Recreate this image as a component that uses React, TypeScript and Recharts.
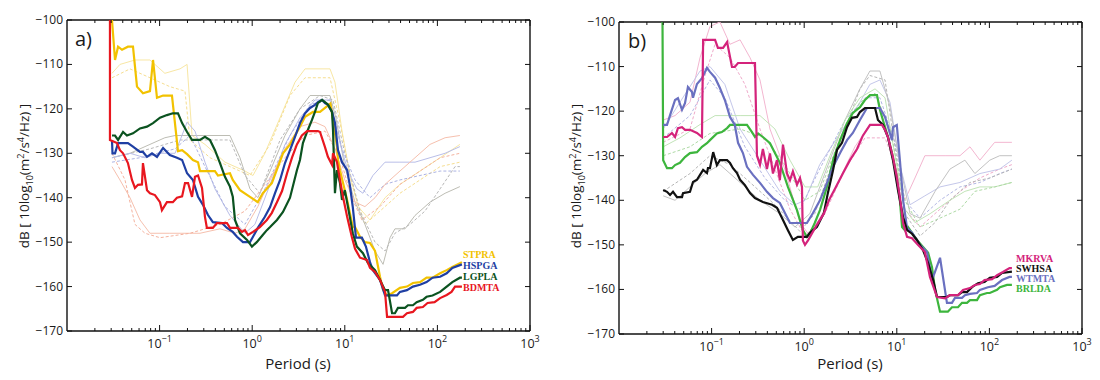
import { LineChart, Line, XAxis, YAxis, ReferenceLine } from 'recharts'

type Pt = [number, number]

// period (s), dB
const STPRA: Pt[] = [
  [0.0306, -100], [0.033, -109], [0.0356, -106], [0.0393, -106.7], [0.0455, -106], [0.0516, -106],
  [0.057, -115], [0.0661, -116.5], [0.0787, -116], [0.0849, -109], [0.0937, -117.5], [0.109, -117],
  [0.136, -117], [0.158, -129.5], [0.175, -129.3], [0.198, -130.2], [0.229, -131.5], [0.26, -132],
  [0.273, -134], [0.396, -134], [0.427, -135], [0.575, -134.5], [0.617, -136], [0.738, -138.3],
  [0.946, -139.8], [1.15, -141], [1.3, -139], [1.63, -136.7], [1.9, -133], [2.15, -130], [2.56, -128],
  [3.28, -124], [3.72, -121.8], [4.53, -120.7], [5.4, -120.7], [6.11, -119.8], [7.0, -118.8],
  [7.46, -122.5], [8.23, -128.5], [8.44, -131.5], [8.87, -133.8], [10.6, -140.5], [12.2, -146.6],
  [12.9, -146.6], [14.6, -148.8], [16.5, -150], [18.7, -150.2], [21.2, -152], [24.0, -157.8],
  [25.9, -160.8], [28.6, -162], [32.4, -161.5], [39.4, -160.3], [46.9, -160], [54.4, -159.2],
  [64.9, -159], [76.4, -158], [88.6, -158], [107, -157], [126, -156.3], [145, -155.6], [184, -154.5],
]

const HSPGA: Pt[] = [
  [0.0306, -127], [0.031, -130], [0.033, -130], [0.0356, -127.7], [0.0455, -127.7], [0.0516, -128.5],
  [0.0614, -129.7], [0.0661, -129.7], [0.0731, -130.8], [0.0828, -130], [0.0937, -130.8], [0.109, -128.8],
  [0.129, -130.4], [0.154, -131], [0.175, -131.5], [0.198, -134.5], [0.229, -136], [0.26, -139.8],
  [0.294, -141.6], [0.333, -143.9], [0.376, -145.5], [0.471, -145.7], [0.534, -146.8], [0.617, -147.7],
  [0.685, -148.8], [0.795, -150], [0.946, -150], [1.02, -148.8], [1.15, -146.8], [1.37, -144.3],
  [1.56, -142.1], [1.76, -139], [2.0, -136], [2.26, -132.2], [2.56, -129.3], [2.9, -126.3], [3.28, -123.2],
  [3.72, -121], [4.21, -119.8], [4.76, -119.1], [5.12, -118.5], [5.68, -118], [6.11, -118.7],
  [6.57, -119.1], [7.28, -120.7], [7.83, -123.2], [8.44, -129.3], [9.33, -132], [10.6, -133.8],
  [11.4, -137.5], [12.2, -142.1], [13.2, -149], [15.3, -149], [16.9, -151], [18.7, -154.5],
  [20.1, -156.3], [24.0, -158.5], [27.2, -162], [36.6, -162], [39.4, -161.2], [46.9, -160.8],
  [54.4, -160], [64.9, -159.6], [76.4, -159], [88.6, -158], [107, -157.8], [126, -157], [145, -155.8],
  [184, -155],
]

const LGPLA: Pt[] = [
  [0.0306, -126], [0.033, -126], [0.0356, -127], [0.0403, -125.2], [0.0444, -126], [0.0516, -125.5],
  [0.0614, -124.4], [0.0731, -124], [0.0849, -123.2], [0.101, -122], [0.12, -121.4], [0.139, -121],
  [0.158, -121], [0.175, -123.2], [0.198, -125.2], [0.224, -127], [0.273, -127], [0.309, -126.3],
  [0.35, -127], [0.396, -129.3], [0.449, -132.2], [0.508, -135.3], [0.575, -137.5], [0.617, -139.8],
  [0.652, -145], [0.738, -148], [0.879, -149.5], [0.994, -151], [1.12, -150], [1.3, -148.4],
  [1.44, -147.3], [1.56, -146.6], [1.85, -145], [2.15, -143.2], [2.56, -140], [3.04, -133.8],
  [3.28, -131.5], [3.53, -127.7], [3.91, -125.2], [4.42, -122.5], [4.76, -120.7], [5.12, -118.7],
  [5.68, -118], [6.11, -118.5], [6.57, -119], [7.28, -120.7], [7.46, -124.8], [7.83, -139],
  [8.23, -133.8], [8.87, -136.7], [9.33, -140.5], [10.0, -138.3], [10.8, -142], [12.2, -148],
  [13.5, -151], [15.7, -152.5], [17.8, -154.7], [21.2, -156.3], [24.0, -158.5], [27.2, -160.8],
  [29.3, -160.8], [32.4, -166], [34.8, -166], [37.5, -164.8], [44.7, -164.8], [48.1, -164.2],
  [54.4, -164.2], [59.7, -163.5], [69.7, -163], [76.4, -162.3], [88.6, -162], [107, -161.2],
  [126, -160], [145, -159], [175, -158], [184, -158],
]

const BDMTA: Pt[] = [
  [0.0291, -100], [0.0291, -127], [0.0347, -127.7], [0.0373, -129.3], [0.0403, -130], [0.0455, -132.2],
  [0.0503, -136], [0.0542, -137.8], [0.0584, -137.1], [0.0645, -137], [0.0661, -132.2], [0.0731, -138.3],
  [0.0787, -139], [0.0891, -139.4], [0.101, -141], [0.106, -142.8], [0.12, -141], [0.139, -141],
  [0.154, -140], [0.175, -139.7], [0.188, -136.7], [0.203, -136.7], [0.224, -139.8], [0.241, -135.3],
  [0.26, -135], [0.287, -137.8], [0.309, -144.3], [0.324, -146.8], [0.376, -146.8], [0.416, -145.7],
  [0.534, -145.7], [0.575, -146.8], [0.702, -146.8], [0.776, -147.7], [0.836, -147.3], [0.901, -148.4],
  [1.02, -147.7], [1.21, -146.6], [1.44, -145], [1.63, -143.4], [1.85, -141], [2.1, -138.5],
  [2.38, -134.5], [2.69, -131], [3.04, -128], [3.44, -126], [3.91, -125], [5.12, -125], [5.4, -125.2],
  [6.11, -128.6], [6.57, -130.8], [7.28, -132.6], [7.46, -130], [8.23, -132], [8.87, -136],
  [9.56, -139.8], [10.6, -144.3], [11.9, -148.8], [12.9, -151.5], [14.6, -153.5], [17.3, -154],
  [18.7, -155.8], [21.2, -156.7], [24.0, -158.5], [27.2, -161.2], [28.6, -166.8], [42.5, -166.8],
  [46.9, -166], [54.4, -165.7], [59.7, -164.8], [69.7, -164.6], [78.3, -163.7], [93.2, -163.5],
  [107, -162.6], [126, -161.9], [142, -161.2], [155, -160], [184, -160],
]

const MKRVA: Pt[] = [
  [0.03, -125.8], [0.033, -125.8], [0.0373, -124.9], [0.0403, -125.8], [0.0433, -123.8], [0.0479, -123.6],
  [0.0516, -124.2], [0.0584, -124.2], [0.0695, -124.9], [0.0787, -125.8], [0.081, -104], [0.109, -104],
  [0.117, -105.8], [0.133, -105.8], [0.147, -104.5], [0.166, -110.1], [0.178, -110.1], [0.193, -109.2],
  [0.294, -109.2], [0.309, -130], [0.333, -132], [0.358, -128.5], [0.396, -133], [0.427, -129.5],
  [0.46, -134], [0.508, -131], [0.546, -135.5], [0.59, -127.5], [0.652, -134], [0.702, -135.5],
  [0.755, -133.5], [0.836, -136.5], [0.901, -135], [0.946, -137], [0.968, -149], [1.02, -150],
  [1.1, -149], [1.37, -145.5], [1.63, -143], [1.85, -140], [2.2, -137], [2.63, -133.9], [3.12, -131],
  [3.72, -128.5], [4.3, -125.5], [5.14, -123.1], [6.92, -123.1], [7.46, -124.2], [8.02, -125.8],
  [9.09, -130.3], [10.0, -134.8], [10.8, -139.3], [11.7, -145.1], [12.9, -148.2], [14.6, -148.5],
  [16.9, -150], [20.1, -151.6], [22.8, -157.2], [27.2, -161.7], [33.2, -162], [37.5, -161.3],
  [45.8, -161.3], [51.9, -160.1], [61.7, -159.7], [69.7, -159], [79.0, -158.8], [88.6, -157.9],
  [107, -157.7], [121, -156.8], [140, -156.1], [165, -155.2], [175, -155.2],
]

const SWHSA: Pt[] = [
  [0.03, -137.7], [0.033, -138.1], [0.0356, -138.8], [0.0383, -138.1], [0.0423, -139.3], [0.0479, -139.3],
  [0.0491, -138.4], [0.0584, -138.1], [0.063, -135.9], [0.0695, -135.4], [0.075, -134.3], [0.081, -133.2],
  [0.0891, -133.9], [0.0913, -132.8], [0.096, -132.8], [0.104, -129.2], [0.114, -132.1], [0.123, -131],
  [0.147, -131], [0.158, -131.6], [0.17, -132.8], [0.188, -133.9], [0.203, -135.4], [0.229, -136.6],
  [0.26, -138.4], [0.294, -139.5], [0.358, -140.4], [0.45, -141], [0.508, -141.7], [0.59, -144.4],
  [0.667, -146.7], [0.755, -148.9], [0.855, -148.2], [1.07, -148.2], [1.15, -147.3], [1.37, -146],
  [1.63, -142.9], [1.8, -138.4], [2.05, -133.2], [2.26, -128.7], [2.56, -127.1], [2.9, -123.6],
  [3.28, -121.5], [3.72, -121.3], [4.0, -120.2], [4.53, -119.3], [5.82, -119.3], [6.26, -122],
  [7.09, -123.1], [8.02, -125.8], [9.09, -131], [10.3, -137.7], [11.7, -143.8], [12.9, -146.7],
  [14.6, -147.5], [16.5, -148.9], [19.2, -151.2], [21.8, -154.1], [24.7, -157.9], [27.2, -161.7],
  [34.8, -161.7], [37.5, -161.3], [45.8, -161.3], [50.6, -160.6], [57.3, -160.6], [64.9, -159.5],
  [75.4, -158.6], [88.6, -158.3], [101, -157.4], [121, -157.2], [137, -156.3], [175, -156],
]

const WTMTA: Pt[] = [
  [0.03, -123.1], [0.033, -123.1], [0.0356, -120.9], [0.0403, -117.5], [0.0433, -117.1], [0.0479, -119.7],
  [0.0516, -118.2], [0.0555, -114.6], [0.0614, -115.7], [0.063, -117], [0.0695, -113.9], [0.0787, -112.6],
  [0.0891, -110.3], [0.096, -111.2], [0.109, -112.5], [0.123, -114.8], [0.139, -117.5], [0.158, -121.3],
  [0.178, -123.1], [0.193, -127.1], [0.218, -129.4], [0.241, -132.5], [0.28, -134.3], [0.333, -136.1],
  [0.396, -138.1], [0.46, -139.5], [0.546, -140.6], [0.702, -145.1], [1.07, -145.1], [1.24, -142.9],
  [1.48, -140], [1.76, -136.1], [2.05, -132.5], [2.44, -129.4], [2.9, -126.5], [3.35, -124.9],
  [4.0, -122], [4.76, -119.3], [6.57, -119.3], [7.46, -121.3], [8.87, -126.5], [9.09, -123.6],
  [10.0, -123.1], [10.8, -131], [11.7, -140], [12.9, -146.2], [14.6, -147.3], [17.8, -150],
  [21.2, -151.6], [24.0, -157.9], [29.3, -152.9], [34.8, -163], [39.4, -163], [42.5, -161.9],
  [50.6, -161.9], [54.4, -161.3], [61.7, -161], [73.5, -160.8], [79.0, -160.1], [96.4, -159.5],
  [114, -159.2], [137, -157.9], [165, -157.2], [175, -157.2],
]

const BRLDA: Pt[] = [
  [0.0295, -100], [0.03, -131], [0.033, -132.8], [0.0373, -132.8], [0.0403, -132.1], [0.0455, -131.6],
  [0.0516, -130.3], [0.0584, -129.4], [0.0695, -129.2], [0.0787, -128], [0.0891, -127.2], [0.096, -126.5],
  [0.114, -125], [0.129, -124.7], [0.147, -123.8], [0.158, -123.1], [0.241, -123.1], [0.273, -124.7],
  [0.294, -125.8], [0.318, -125], [0.358, -125.8], [0.427, -127.2], [0.483, -129.4], [0.546, -131.6],
  [0.667, -137], [0.836, -142.2], [0.968, -146.7], [1.07, -148.2], [1.15, -147.5], [1.3, -145.1],
  [1.48, -142.2], [1.76, -137], [2.05, -131], [2.44, -126.5], [2.9, -122.7], [3.35, -120.4],
  [4.0, -119.1], [4.53, -117.5], [5.14, -116.4], [6.11, -116.4], [6.57, -119.7], [7.46, -123.6],
  [8.02, -125.8], [8.87, -129.4], [10.0, -134.8], [10.8, -140], [11.4, -146], [12.2, -146.7],
  [13.2, -146], [14.6, -147.3], [16.5, -148.9], [19.2, -150.5], [21.8, -151.8], [24.0, -155],
  [25.9, -160.1], [29.3, -165], [35.6, -165], [39.4, -164], [45.8, -164], [50.6, -163], [57.3, -163],
  [61.7, -162.4], [73.5, -162.4], [79.0, -161.3], [94.2, -160.8], [101, -160.8], [121, -160.1],
  [130, -159.5], [155, -159], [175, -159],
]

// faint station curves, panel a
const A_YELLOW: Pt[] = [
  [0.0306, -112], [0.0373, -110], [0.0542, -109], [0.0787, -109], [0.114, -112], [0.166, -111],
  [0.198, -110], [0.224, -126], [0.309, -128], [0.508, -132], [0.836, -134], [1.02, -135], [1.37, -130],
  [2.0, -122], [2.9, -114], [3.72, -111], [6.92, -111], [7.83, -114], [9.33, -125], [11.4, -135],
  [13.9, -142], [18.7, -145], [27.2, -140], [39.4, -137], [64.9, -134], [107, -131], [175, -128],
]
const A_GRAY: Pt[] = [
  [0.0306, -131], [0.0479, -130], [0.0787, -128], [0.114, -126.5], [0.147, -126], [0.575, -126],
  [0.738, -131], [0.946, -138], [1.15, -140], [1.56, -134], [2.26, -126], [3.28, -120], [4.21, -117],
  [6.92, -117], [8.0, -122], [10.0, -133], [12.9, -141], [16.5, -146], [21.2, -152], [25.9, -155],
  [30.8, -149], [34.8, -147], [44.7, -147], [57.3, -144], [83.2, -141], [121, -139], [175, -137.5],
]
const A_BLUE: Pt[] = [
  [0.0306, -131], [0.0479, -130], [0.0695, -131], [0.101, -130], [0.147, -130], [0.198, -123],
  [0.241, -125], [0.309, -132], [0.396, -138], [0.575, -144], [0.836, -148], [1.07, -146], [1.56, -137],
  [2.26, -128], [3.28, -122], [4.76, -118], [6.92, -118], [8.44, -126], [10.8, -134], [13.5, -138],
  [15.7, -139], [20.1, -135], [27.2, -132], [39.4, -132], [57.3, -132], [83.2, -131], [121, -130],
  [175, -128.5],
]
const A_SALMON: Pt[] = [
  [0.0306, -133], [0.0373, -136], [0.0479, -140], [0.0614, -145], [0.0787, -148], [0.129, -148],
  [0.273, -148], [0.449, -147], [0.652, -148], [0.836, -147], [1.15, -142], [1.56, -136], [2.26, -129],
  [3.28, -124], [4.76, -123], [6.11, -124], [7.83, -129], [10.0, -136], [12.9, -141], [16.5, -142],
  [21.2, -140], [27.2, -137], [39.4, -134], [57.3, -131], [83.2, -128], [121, -126.5], [175, -126],
]
const A_SALMON_D: Pt[] = [
  [0.0306, -130], [0.0423, -136], [0.0542, -146], [0.0695, -148], [0.101, -149], [0.213, -148],
  [0.449, -146], [0.836, -143], [1.37, -137], [2.26, -131], [3.72, -126], [6.11, -125], [8.87, -131],
  [11.9, -140], [15.3, -145], [24.0, -142], [39.4, -137], [64.9, -134], [107, -131], [175, -130],
]
const A_GRAY_D: Pt[] = [
  [0.0306, -131], [0.0787, -129], [0.166, -127], [0.575, -127], [0.836, -135], [1.21, -139], [2.0, -127],
  [3.28, -120], [5.4, -117], [7.46, -118], [10.0, -130], [14.6, -143], [21.2, -150], [27.2, -152],
  [34.8, -148], [50.6, -146], [73.5, -143], [107, -138], [155, -133], [175, -133],
]
const A_BLUE_D: Pt[] = [
  [0.0306, -132], [0.0614, -131], [0.147, -129], [0.213, -126], [0.309, -133], [0.508, -142],
  [0.836, -146], [1.37, -138], [2.56, -126], [4.21, -119], [6.92, -118], [9.33, -129], [12.9, -136],
  [18.7, -140], [27.2, -137], [39.4, -136], [64.9, -135], [107, -134], [175, -134],
]
const A_YELLOW_D: Pt[] = [
  [0.0306, -113], [0.0479, -111], [0.0787, -113], [0.129, -115], [0.188, -116], [0.213, -127],
  [0.35, -131], [0.575, -133], [0.946, -135], [1.56, -128], [2.56, -117], [3.72, -113], [6.92, -113],
  [8.87, -123], [11.9, -137], [16.5, -146], [24.0, -143], [39.4, -139], [64.9, -136], [107, -133],
  [175, -132],
]

// faint station curves, panel b
const B_PINK: Pt[] = [
  [0.03, -122], [0.0403, -121], [0.0584, -118], [0.075, -108], [0.096, -101], [0.123, -100], [0.158, -105],
  [0.203, -104], [0.26, -108], [0.333, -113], [0.427, -124], [0.617, -133], [0.901, -145], [1.15, -148],
  [1.67, -142], [2.44, -135], [3.53, -128], [5.12, -123], [7.46, -123], [9.56, -132], [12.2, -140],
  [15.7, -135], [20.1, -130], [33.2, -130], [48.1, -130], [61.7, -128], [79.0, -131], [114, -127],
  [175, -127],
]
const B_LAVENDER: Pt[] = [
  [0.03, -124], [0.0455, -118], [0.075, -111], [0.096, -110], [0.139, -114], [0.203, -124], [0.333, -131],
  [0.546, -138], [0.795, -141], [1.02, -140], [1.47, -132], [2.44, -125], [4.0, -118], [5.12, -114],
  [6.57, -113], [8.44, -118], [10.8, -132], [13.9, -141], [20.1, -139], [29.3, -137], [48.1, -136],
  [79.0, -134], [129, -133], [175, -131],
]
const B_GRAY: Pt[] = [
  [0.03, -139], [0.0403, -140], [0.0584, -137], [0.0849, -134], [0.123, -132], [0.203, -136],
  [0.333, -140], [0.546, -143], [0.795, -146], [1.15, -143], [1.67, -134], [2.76, -122], [4.0, -115],
  [5.12, -111], [6.57, -111], [8.44, -119], [10.8, -132], [13.9, -143], [17.8, -144], [25.9, -138],
  [37.5, -133], [54.4, -131], [69.7, -134], [101, -131], [129, -130], [175, -130],
]
const B_GREEN: Pt[] = [
  [0.03, -128], [0.0455, -126], [0.075, -123], [0.109, -121], [0.203, -121], [0.333, -121], [0.483, -124],
  [0.702, -131], [1.02, -137], [1.4, -137], [1.9, -130], [2.76, -122], [4.0, -117], [5.82, -115],
  [7.46, -117], [9.56, -130], [12.2, -142], [15.7, -145], [22.9, -143], [37.5, -140], [54.4, -138],
  [79.0, -137], [114, -137], [175, -136],
]
const B_GREEN_D: Pt[] = [
  [0.03, -130], [0.0584, -128], [0.096, -125], [0.203, -124], [0.376, -126], [0.617, -132], [1.02, -140],
  [1.47, -138], [2.44, -126], [4.0, -118], [5.82, -116], [8.44, -124], [12.2, -140], [17.8, -146],
  [29.3, -144], [48.1, -142], [69.7, -138], [114, -137], [175, -136],
]
const B_GRAY_D: Pt[] = [
  [0.03, -138], [0.0584, -134], [0.096, -130], [0.158, -132], [0.26, -136], [0.483, -141], [0.901, -147],
  [1.3, -143], [2.15, -130], [4.0, -115], [5.12, -112], [7.46, -113], [9.56, -128], [12.2, -143],
  [17.8, -148], [25.9, -145], [37.5, -140], [61.7, -136], [101, -135], [175, -133],
]
const B_PINK_D: Pt[] = [
  [0.03, -127], [0.0584, -124], [0.0849, -112], [0.109, -105], [0.158, -108], [0.229, -114], [0.333, -124],
  [0.483, -133], [0.702, -142], [1.02, -148], [1.67, -143], [2.76, -133], [4.53, -126], [7.46, -126],
  [9.56, -132], [12.2, -142], [17.8, -146], [29.3, -142], [48.1, -138], [79.0, -135], [129, -133],
  [175, -132],
]
const B_LAVENDER_D: Pt[] = [
  [0.03, -126], [0.0584, -121], [0.096, -113], [0.139, -117], [0.229, -128], [0.376, -135], [0.617, -140],
  [0.901, -142], [1.47, -133], [2.76, -122], [4.53, -117], [6.57, -117], [9.56, -127], [12.2, -140],
  [17.8, -144], [29.3, -140], [48.1, -137], [79.0, -136], [129, -134], [175, -133],
]

const MAJOR_TICKS = [0.1, 1, 10, 100, 1000]
const MINOR_TICKS = [0.01, 0.1, 1, 10, 100].flatMap((d) => [2, 3, 4, 5, 6, 7, 8, 9].map((m) => m * d))
const DB_TICKS = [-170, -160, -150, -140, -130, -120, -110, -100]

const SANS = '"Open Sans", "DejaVu Sans", sans-serif'
const SERIF = '"Liberation Serif", "Times New Roman", serif'

type Bold = { name: string; data: Pt[]; color: string }
type Faint = { data: Pt[]; color: string; dashed?: boolean }

const toRows = (d: Pt[]) => d.map(([t, db]) => ({ t, db }))

const isMajor = (v: number) => MAJOR_TICKS.some((m) => Math.abs(v / m - 1) < 1e-6)

function PeriodTick(props: any) {
  const { x, y, payload, h } = props
  const v = payload.value
  const major = isMajor(v)
  const len = major ? 6 : 3
  const exp = Math.round(Math.log10(v))
  return (
    <g>
      <line x1={x} x2={x} y1={y} y2={y - len} stroke="#111" strokeWidth={1} />
      <line x1={x} x2={x} y1={y - h} y2={y - h + len} stroke="#111" strokeWidth={1} />
      {major && (
        <text x={x} y={y + 17} textAnchor="middle" fontSize={12.5} fontFamily={SANS} fill="#1a1a1a">
          <tspan>10</tspan>
          <tspan dy={-6} fontSize={9}>
            {exp < 0 ? `\u2212${-exp}` : exp}
          </tspan>
        </text>
      )}
    </g>
  )
}

function DbTick(props: any) {
  const { x, y, payload, w } = props
  return (
    <g>
      <line x1={x} x2={x + 5} y1={y} y2={y} stroke="#111" strokeWidth={1} />
      <line x1={x + w} x2={x + w - 5} y1={y} y2={y} stroke="#111" strokeWidth={1} />
      <text x={x - 4} y={y} dy={4} textAnchor="end" fontSize={12} fontFamily={SANS} fill="#1a1a1a">
        {String(payload.value).replace('-', '\u2212')}
      </text>
    </g>
  )
}

type PanelProps = {
  width: number
  top: number
  bottom: number
  right: number
  bold: Bold[]
  faint: Faint[]
}

function Panel({ width, top, bottom, right, bold, faint }: PanelProps) {
  const h = 380 - top - bottom - 30
  const w = width - 10 - 57 - right
  return (
    <LineChart width={width} height={380} margin={{ top, right, bottom, left: 10 }}>
      <XAxis
        dataKey="t"
        type="number"
        scale="log"
        domain={[0.01, 1000]}
        allowDataOverflow
        ticks={[...MINOR_TICKS, ...MAJOR_TICKS]}
        interval={0}
        height={30}
        tickSize={0}
        tickMargin={0}
        tickLine={false}
        axisLine={{ stroke: '#111', strokeWidth: 1.4 }}
        tick={(p: any) => <PeriodTick {...p} h={h} />}
      />
      <YAxis
        type="number"
        domain={[-170, -100]}
        allowDataOverflow
        ticks={DB_TICKS}
        interval={0}
        width={57}
        tickSize={0}
        tickMargin={0}
        tickLine={false}
        axisLine={{ stroke: '#111', strokeWidth: 1.4 }}
        tick={(p: any) => <DbTick {...p} w={w} />}
      />
      <ReferenceLine y={-100} stroke="#111" strokeWidth={1.4} />
      <ReferenceLine x={1000} stroke="#111" strokeWidth={1.4} />
      {faint.map((f, i) => (
        <Line
          key={`f${i}`}
          data={toRows(f.data)}
          dataKey="db"
          type="linear"
          stroke={f.color}
          strokeWidth={1}
          strokeDasharray={f.dashed ? '3 2' : undefined}
          dot={false}
          activeDot={false}
          isAnimationActive={false}
        />
      ))}
      {bold.map((b) => (
        <Line
          key={b.name}
          data={toRows(b.data)}
          dataKey="db"
          type="linear"
          stroke={b.color}
          strokeWidth={2.2}
          dot={false}
          activeDot={false}
          isAnimationActive={false}
        />
      ))}
    </LineChart>
  )
}

const BOLD_A: Bold[] = [
  { name: 'STPRA', data: STPRA, color: '#f2c200' },
  { name: 'HSPGA', data: HSPGA, color: '#1f3fa3' },
  { name: 'LGPLA', data: LGPLA, color: '#0b5320' },
  { name: 'BDMTA', data: BDMTA, color: '#e8171f' },
]
const BOLD_B: Bold[] = [
  { name: 'MKRVA', data: MKRVA, color: '#d4237b' },
  { name: 'SWHSA', data: SWHSA, color: '#111111' },
  { name: 'WTMTA', data: WTMTA, color: '#6a70c0' },
  { name: 'BRLDA', data: BRLDA, color: '#3db53d' },
]
const DRAW_B = [BOLD_B[3], BOLD_B[2], BOLD_B[1], BOLD_B[0]]

const FAINT_A: Faint[] = [
  { data: A_YELLOW, color: '#f8e7a4' },
  { data: A_YELLOW_D, color: '#f6de90', dashed: true },
  { data: A_GRAY, color: '#bdbdb4' },
  { data: A_GRAY_D, color: '#b8b8b8', dashed: true },
  { data: A_BLUE, color: '#b9bee8' },
  { data: A_BLUE_D, color: '#acb3e2', dashed: true },
  { data: A_SALMON, color: '#f6c0ae' },
  { data: A_SALMON_D, color: '#f4b29e', dashed: true },
]
const FAINT_B: Faint[] = [
  { data: B_PINK, color: '#f3b6d0' },
  { data: B_PINK_D, color: '#efaaca', dashed: true },
  { data: B_LAVENDER, color: '#c4c7ea' },
  { data: B_LAVENDER_D, color: '#b3b7e3', dashed: true },
  { data: B_GRAY, color: '#c2c2c2' },
  { data: B_GRAY_D, color: '#b6b6b6', dashed: true },
  { data: B_GREEN, color: '#c2e4b8' },
  { data: B_GREEN_D, color: '#aedaa5', dashed: true },
]

const LEGEND_TOP_A = [250, 261, 272, 283]
const LEGEND_TOP_B = [254, 264, 274, 284]

const yLabel = (
  <>
    dB [ 10log<sub style={{ fontSize: 9 }}>10</sub>(m<sup style={{ fontSize: 9 }}>2</sup>/s
    <sup style={{ fontSize: 9 }}>4</sup>/Hz) ]
  </>
)

const abs = (left: number, top: number): React.CSSProperties => ({
  position: 'absolute',
  left,
  top,
  lineHeight: 1,
  whiteSpace: 'nowrap',
})

export default function App() {
  return (
    <div style={{ position: 'absolute', left: 0, top: 0, width: 1100, height: 380, background: '#fff' }}>
      <div style={abs(0, 0)}>
        <Panel width={550} top={20} bottom={19} right={20} bold={BOLD_A} faint={FAINT_A} />
      </div>
      <div style={abs(552, 0)}>
        <Panel width={548} top={22} bottom={16} right={18} bold={DRAW_B} faint={FAINT_B} />
      </div>

      <div style={{ ...abs(75, 29), fontSize: 20, fontFamily: SANS, color: '#1a1a1a' }}>a)</div>
      <div style={{ ...abs(628, 31), fontSize: 20, fontFamily: SANS, color: '#1a1a1a' }}>b)</div>

      {[25, 577].map((cx) => (
        <div
          key={cx}
          style={{
            ...abs(cx, 176),
            transform: 'translate(-50%, -50%) rotate(-90deg)',
            fontSize: 13.5,
            fontFamily: SANS,
            color: '#1a1a1a',
          }}
        >
          {yLabel}
        </div>
      ))}
      {[298, 850].map((cx) => (
        <div
          key={cx}
          style={{
            ...abs(cx, 363),
            transform: 'translate(-50%, -50%)',
            fontSize: 15,
            fontFamily: SANS,
            color: '#1a1a1a',
          }}
        >
          Period (s)
        </div>
      ))}

      {BOLD_A.map((b, i) => (
        <div
          key={b.name}
          style={{
            ...abs(463, LEGEND_TOP_A[i]),
            fontSize: 10,
            fontWeight: 700,
            fontFamily: SERIF,
            color: b.color,
          }}
        >
          {b.name}
        </div>
      ))}
      {BOLD_B.map((b, i) => (
        <div
          key={b.name}
          style={{
            ...abs(1016, LEGEND_TOP_B[i]),
            fontSize: 10,
            fontWeight: 700,
            fontFamily: SERIF,
            color: b.color,
          }}
        >
          {b.name}
        </div>
      ))}
    </div>
  )
}
